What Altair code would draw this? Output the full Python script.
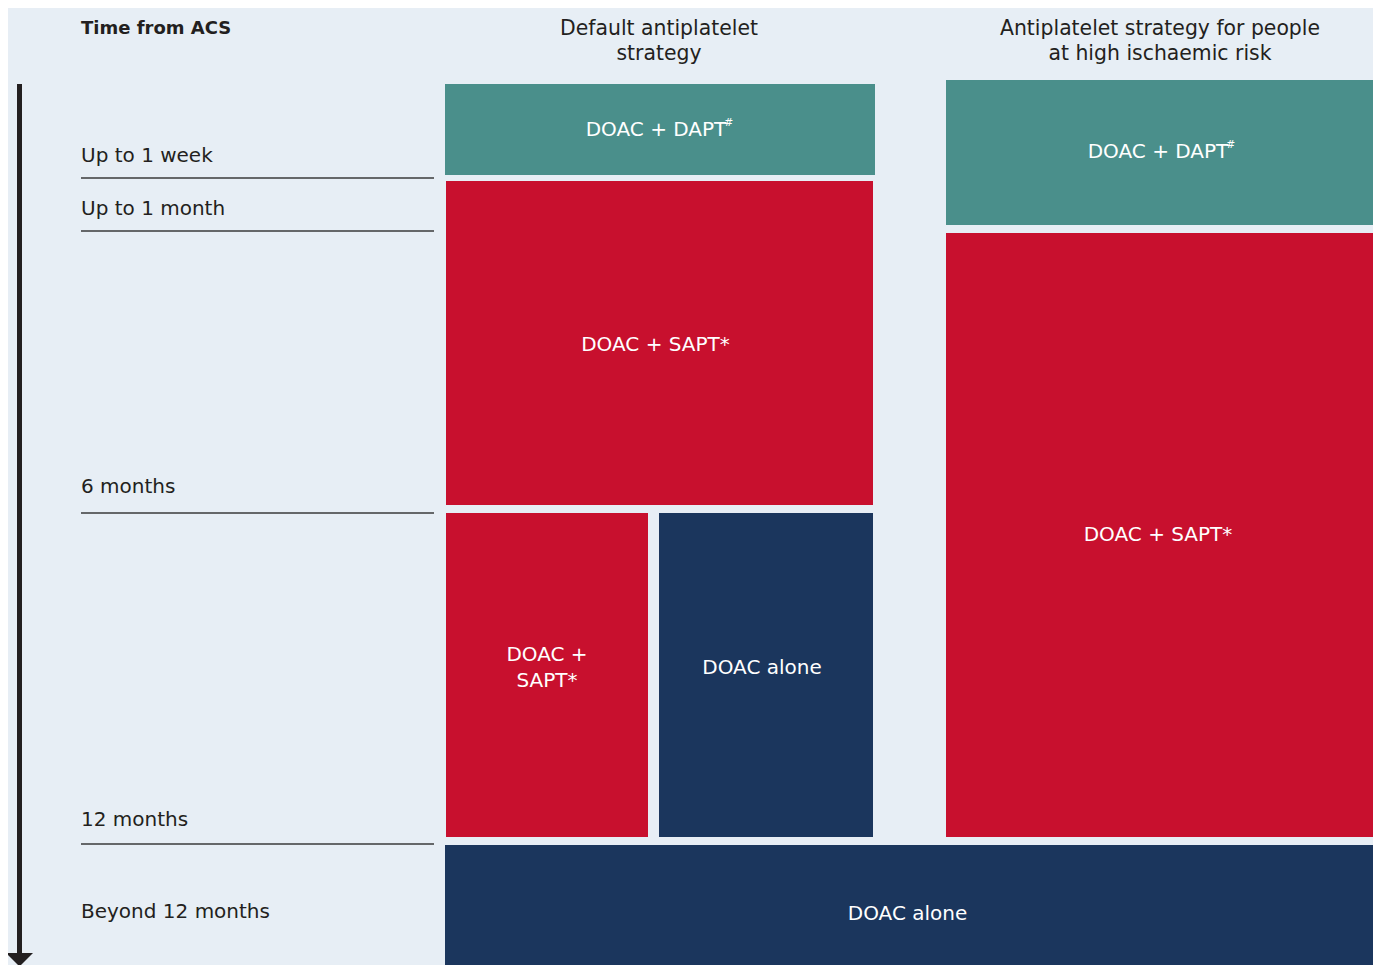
import altair as alt
import pandas as pd

# ---------------- data ----------------
# Timeline (left column), in diagram layout units
timeline_labels = ["Up to 1 week", "Up to 1 month", "6 months", "12 months", "Beyond 12 months"]
timeline_label_y = [162, 215, 493, 826, 918]
divider_y = [178, 231, 513, 844]

# Column headers
header_text = [["Default antiplatelet", "strategy"],
               ["Antiplatelet strategy for people", "at high ischaemic risk"]]
header_x = [659, 1160]

# Therapy blocks
block_therapy = ["DOAC + DAPT", "DOAC + SAPT", "DOAC + SAPT", "DOAC alone",
                 "DOAC + DAPT", "DOAC + SAPT", "DOAC alone"]
block_label = ["DOAC + DAPT", "DOAC + SAPT*", "DOAC +\nSAPT*", "DOAC alone",
               "DOAC + DAPT", "DOAC + SAPT*", "DOAC alone"]
block_sup = ["#", "", "", "", "#", "", ""]
block_x0 = [445, 446, 446, 659, 946, 946, 445]
block_x1 = [875, 873, 648, 873, 1378, 1378, 1378]
block_y0 = [84, 181, 513, 513, 80, 233, 845]
block_y1 = [175, 505, 837, 837, 225, 837, 983]
block_label_dy = [0, 2, -7, -7, -1, 0, 0]

therapy_domain = ["DOAC + DAPT", "DOAC + SAPT", "DOAC alone"]
therapy_colors = ["#4a8f8b", "#c8102e", "#1b365d"]

BG = "#e7eef5"
INK = "#231f20"
FONT = "DejaVu Sans"

W, H = 1365, 957
xs = alt.Scale(domain=[8, 8 + W], nice=False, zero=False)
ys = alt.Scale(domain=[8, 8 + H], nice=False, zero=False, reverse=True)

blocks = pd.DataFrame({
    "therapy": block_therapy, "label": block_label, "sup": block_sup,
    "x0": block_x0, "x1": block_x1, "y0": block_y0, "y1": block_y1,
    "ldy": block_label_dy,
})
blocks["cx"] = (blocks.x0 + blocks.x1) / 2
blocks["cy"] = (blocks.y0 + blocks.y1) / 2 + blocks.ldy

rects = alt.Chart(blocks).mark_rect(clip=True).encode(
    x=alt.X("x0:Q", scale=xs, axis=None),
    x2="x1:Q",
    y=alt.Y("y0:Q", scale=ys, axis=None),
    y2="y1:Q",
    color=alt.Color("therapy:N", scale=alt.Scale(domain=therapy_domain, range=therapy_colors), legend=None),
)

single = blocks[~blocks.label.str.contains("\n")]
multi = blocks[blocks.label.str.contains("\n")]

block_text = alt.Chart(single).mark_text(
    font=FONT, fontSize=20, color="white", align="center", baseline="middle", dx=-4
).encode(
    x=alt.X("cx:Q", scale=xs), y=alt.Y("cy:Q", scale=ys), text="label:N"
)
block_text2 = alt.Chart(multi).mark_text(
    font=FONT, fontSize=20, color="white", align="center", baseline="middle",
    lineBreak="\n", lineHeight=26, dy=-13
).encode(
    x=alt.X("cx:Q", scale=xs), y=alt.Y("cy:Q", scale=ys), text="label:N"
)
sup_text = alt.Chart(blocks[blocks.sup != ""]).mark_text(
    font=FONT, fontSize=11, color="white", align="left", baseline="middle", dx=64, dy=-7
).encode(
    x=alt.X("cx:Q", scale=xs), y=alt.Y("cy:Q", scale=ys), text="sup:N"
)

# timeline labels and dividers
tl = pd.DataFrame({"label": timeline_labels, "y": timeline_label_y})
tl_text = alt.Chart(tl).mark_text(
    font=FONT, fontSize=20, color=INK, align="left", baseline="alphabetic"
).encode(x=alt.value(81 - 8), y=alt.Y("y:Q", scale=ys), text="label:N")

dv = pd.DataFrame({"y": divider_y})
dividers = alt.Chart(dv).mark_rule(color="#3a3a3a", strokeWidth=1.4).encode(
    x=alt.value(81 - 8), x2=alt.value(434 - 8), y=alt.Y("y:Q", scale=ys)
)

# arrow
arrow_df = pd.DataFrame({"y0": [84], "y1": [953]})
arrow_line = alt.Chart(arrow_df).mark_rule(color=INK, strokeWidth=5).encode(
    x=alt.value(19.5 - 8), y=alt.Y("y0:Q", scale=ys), y2="y1:Q"
)
arrow_head = alt.Chart(arrow_df).mark_point(
    shape="M-1,0L1,0L0,1Z", size=729, filled=True, color=INK, opacity=1, strokeWidth=0
).encode(x=alt.value(19.5 - 8), y=alt.Y("y1:Q", scale=ys))

# title and headers
title_df = pd.DataFrame({"t": ["Time from ACS"], "y": [34]})
title = alt.Chart(title_df).mark_text(
    font=FONT, fontSize=18, fontWeight="bold", color=INK, align="left", baseline="alphabetic"
).encode(x=alt.value(81 - 8), y=alt.Y("y:Q", scale=ys), text="t:N")

hd = pd.DataFrame({"t": ["\n".join(h) for h in header_text], "x": header_x, "y": [35, 35]})
headers = alt.Chart(hd).mark_text(
    font=FONT, fontSize=20.4, color=INK, align="center", baseline="alphabetic",
    lineBreak="\n", lineHeight=25
).encode(x=alt.X("x:Q", scale=xs), y=alt.Y("y:Q", scale=ys), text="t:N")

chart = alt.layer(
    rects, block_text, block_text2, sup_text, tl_text, dividers,
    arrow_line, arrow_head, title, headers
).properties(
    width=W, height=H, background=BG, padding=0,
    autosize=alt.AutoSizeParams(type="none")
).configure_view(stroke=None)

chart.save("out.html", embed_options={"renderer": "svg", "actions": False})
